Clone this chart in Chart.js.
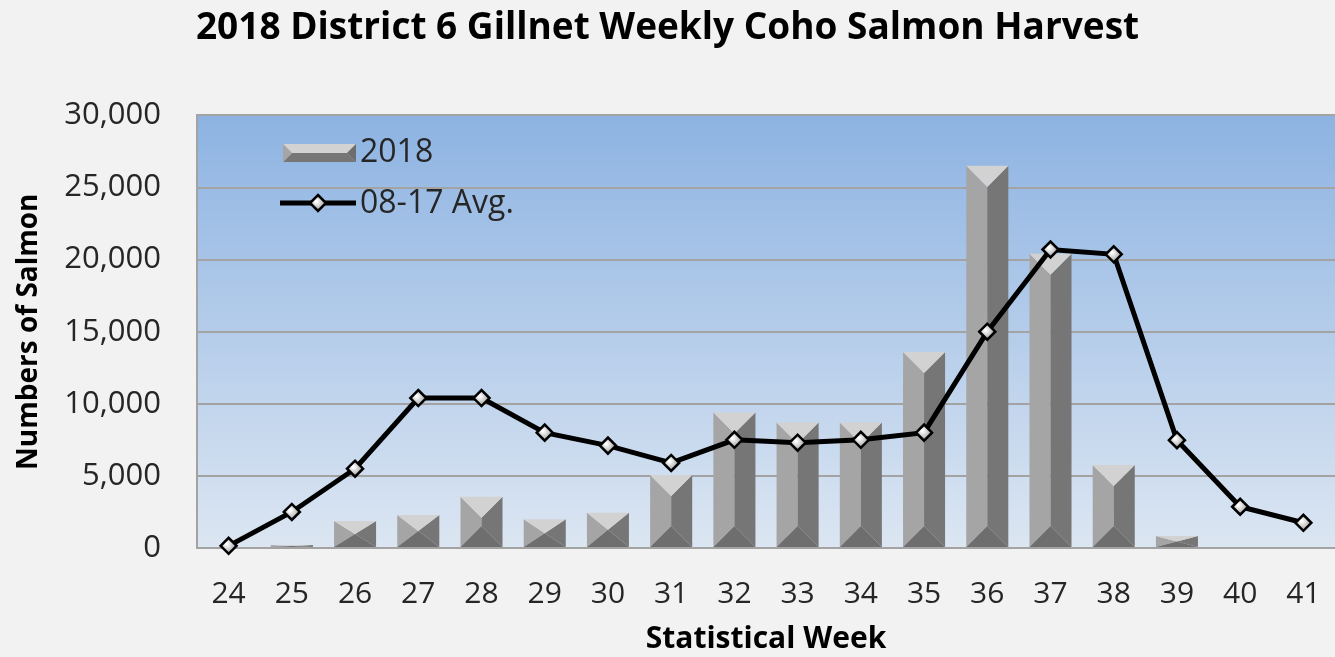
<!DOCTYPE html>
<html>
<head>
<meta charset="utf-8">
<title>2018 District 6 Gillnet Weekly Coho Salmon Harvest</title>
<script src="https://cdn.jsdelivr.net/npm/chart.js@4.4.1/dist/chart.umd.min.js"></script>
<style>
  html, body { margin: 0; padding: 0; background: #f2f2f2; }
  #wrap { width: 1335px; height: 657px; }
</style>
</head>
<body>
<div id="wrap"><canvas id="cohoChart" width="1335" height="657"></canvas></div>
<script>
// statistical weeks and harvest counts
const weeks = ['24', '25', '26', '27', '28', '29', '30', '31', '32', '33', '34', '35', '36', '37', '38', '39', '40', '41'];
const harvest2018 = [0, 200, 1870, 2290, 3560, 1990, 2450, 5060, 9400, 8700, 8700, 13600, 26500, 20400, 5750, 830, 0, 0];
const avg0817 = [150, 2500, 5500, 10400, 10400, 8000, 7100, 5900, 7500, 7300, 7500, 8000, 15000, 20700, 20370, 7480, 2860, 1750];
const yTicks = [0, 5000, 10000, 15000, 20000, 25000, 30000];
const seriesNames = ['2018', '08-17 Avg.'];

const FONT = "'Open Sans', sans-serif";
const TEXT = '#262626';
const GRID = '#a3a3a3';

// colours of the bevelled bar faces
const FACE_TOP = '#d2d2d2';
const FACE_LEFT = '#a5a5a5';
const FACE_RIGHT = '#767676';
const FACE_BOTTOM = '#6e6e6e';

function poly(ctx, pts, color) {
    ctx.beginPath();
    ctx.moveTo(pts[0][0], pts[0][1]);
    for (let i = 1; i < pts.length; i++) ctx.lineTo(pts[i][0], pts[i][1]);
    ctx.closePath();
    ctx.fillStyle = color;
    ctx.fill();
}

function bevelBox(ctx, l, r, top, bot, vertical) {
    const w = r - l, h = bot - top;
    if (vertical) {
        const cx = (l + r) / 2;
        const d = Math.min(w / 2, h / 2);
        poly(ctx, [[l, top], [cx, top + d], [cx, bot - d], [l, bot]], FACE_LEFT);
        poly(ctx, [[r, top], [cx, top + d], [cx, bot - d], [r, bot]], FACE_RIGHT);
        poly(ctx, [[l, top], [r, top], [cx, top + d]], FACE_TOP);
        poly(ctx, [[l, bot], [r, bot], [cx, bot - d]], FACE_BOTTOM);
    } else {
        const cy = (top + bot) / 2;
        const d = Math.min(w / 2, h / 2);
        poly(ctx, [[l, top], [r, top], [r - d, cy], [l + d, cy]], FACE_TOP);
        poly(ctx, [[l, bot], [r, bot], [r - d, cy], [l + d, cy]], FACE_RIGHT);
        poly(ctx, [[l, top], [l + d, cy], [l, bot]], FACE_LEFT);
        poly(ctx, [[r, top], [r - d, cy], [r, bot]], FACE_BOTTOM);
    }
}

// silver look for the diamond markers
function markerFill(context) {
    const el = context.element;
    if (!el || el.x === undefined) return '#cfcfcf';
    const c = context.chart.ctx;
    const g = c.createRadialGradient(el.x - 2, el.y - 2, 1, el.x, el.y, 9);
    g.addColorStop(0, '#ffffff');
    g.addColorStop(0.5, '#c8c8c8');
    g.addColorStop(1, '#7f7f7f');
    return g;
}

const plotBackground = {
    id: 'plotBackground',
    beforeDraw(chart) {
        const { ctx, chartArea: a } = chart;
        const g = ctx.createLinearGradient(0, a.top, 0, a.bottom);
        g.addColorStop(0, '#8db3e2');
        g.addColorStop(1, '#dce6f2');
        ctx.save();
        ctx.fillStyle = g;
        ctx.fillRect(a.left, a.top, a.right - a.left, a.bottom - a.top);
        ctx.restore();
    }
};

const bevelBars = {
    id: 'bevelBars',
    afterDatasetDraw(chart, args) {
        if (args.index !== 0) return;
        const ctx = chart.ctx;
        ctx.save();
        args.meta.data.forEach(bar => {
            const { x, y, base, width } = bar.getProps(['x', 'y', 'base', 'width'], true);
            if (base - y < 0.5) return;
            bevelBox(ctx, x - width / 2, x + width / 2, y, base, true);
        });
        ctx.restore();
    }
};

const insideLegend = {
    id: 'insideLegend',
    afterDraw(chart) {
        const ctx = chart.ctx;
        ctx.save();
        // bar swatch
        bevelBox(ctx, 283, 356, 144, 162, false);
        // line swatch
        ctx.strokeStyle = '#000';
        ctx.lineWidth = 5;
        ctx.beginPath();
        ctx.moveTo(280, 203);
        ctx.lineTo(356, 203);
        ctx.stroke();
        ctx.beginPath();
        ctx.moveTo(318, 195); ctx.lineTo(326, 203); ctx.lineTo(318, 211); ctx.lineTo(310, 203);
        ctx.closePath();
        ctx.fillStyle = markerFill({ element: { x: 318, y: 203 }, chart });
        ctx.fill();
        ctx.lineWidth = 2.5;
        ctx.stroke();
        ctx.fillStyle = TEXT;
        ctx.font = '32px ' + FONT;
        ctx.textBaseline = 'middle';
        ctx.fillText(seriesNames[0], 360, 153);
        ctx.fillText(seriesNames[1], 360, 204);
        ctx.restore();
    }
};

const ctx = document.getElementById('cohoChart').getContext('2d');
const cohoChart = new Chart(ctx, {
    type: 'bar',
    data: {
        labels: weeks,
        datasets: [
            {
                type: 'bar',
                label: seriesNames[0],
                data: harvest2018,
                backgroundColor: 'rgba(0,0,0,0)',
                borderWidth: 0,
                categoryPercentage: 1,
                barPercentage: 0.665,
                order: 1
            },
            {
                type: 'line',
                label: seriesNames[1],
                data: avg0817,
                borderColor: '#000',
                borderWidth: 5,
                tension: 0,
                pointStyle: 'rectRot',
                pointRadius: 8,
                pointBorderWidth: 2.5,
                pointBackgroundColor: markerFill,
                pointBorderColor: '#000',
                clip: false,
                order: 0
            }
        ]
    },
    options: {
        responsive: false,
        animation: false,
        layout: { autoPadding: false, padding: 0 },
        plugins: {
            legend: { display: false },
            tooltip: { enabled: false },
            title: {
                display: true,
                text: '2018 District 6 Gillnet Weekly Coho Salmon Harvest',
                color: '#000',
                font: { family: FONT, size: 37, weight: 'bold' },
                padding: { top: 6, bottom: 65 }
            }
        },
        scales: {
            x: {
                afterFit(scale) {
                    scale.height = 109;
                    scale.paddingLeft = 0;
                    scale.paddingRight = 0;
                },
                grid: { display: false },
                border: { display: true, color: GRID, width: 2 },
                ticks: { color: TEXT, font: { family: FONT, size: 30 }, padding: 20, maxRotation: 0 },
                title: {
                    display: true,
                    text: 'Statistical Week',
                    color: '#000',
                    font: { family: FONT, size: 30, weight: 'bold' },
                    padding: { top: 0, bottom: 0 }
                }
            },
            y: {
                min: 0,
                max: 30000,
                afterFit(scale) { scale.width = 197; },
                afterBuildTicks(scale) { scale.ticks = yTicks.map(v => ({ value: v })); },
                grid: { color: GRID, lineWidth: 2, drawTicks: false },
                border: { display: true, color: GRID, width: 2 },
                ticks: {
                    color: TEXT,
                    font: { family: FONT, size: 31 },
                    padding: 36,
                    callback: v => v.toLocaleString('en-US')
                },
                title: {
                    display: true,
                    text: 'Numbers of Salmon',
                    color: '#000',
                    font: { family: FONT, size: 28, weight: 'bold' },
                    padding: { top: 12, bottom: 0 }
                }
            }
        }
    },
    plugins: [plotBackground, bevelBars, insideLegend]
});
</script>
</body>
</html>
